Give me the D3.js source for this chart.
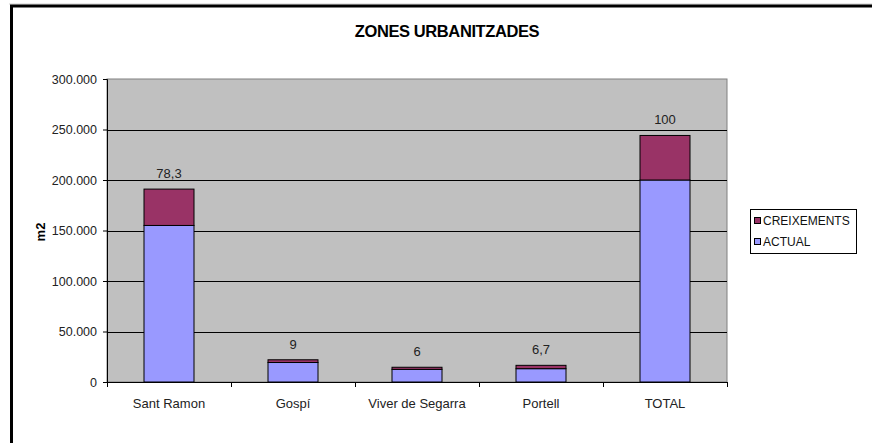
<!DOCTYPE html>
<html>
<head>
<meta charset="utf-8">
<script src="https://cdn.jsdelivr.net/npm/d3@7"></script>
<style>
  body { margin: 0; background: #fff; }
  svg text { font-family: "Liberation Sans", Arial, sans-serif; }
</style>
</head>
<body>
<div id="vis"></div>
<script>
// chart data
const categories = ["Sant Ramon", "Gospí", "Viver de Segarra", "Portell", "TOTAL"];
const actual = [155000, 19300, 12500, 13200, 200000];
const creixements = [36000, 2700, 2100, 3300, 44100];
const pctLabels = ["78,3", "9", "6", "6,7", "100"];
const yTicks = [0, 50000, 100000, 150000, 200000, 250000, 300000];
const seriesNames = ["CREIXEMENTS", "ACTUAL"];
const seriesColors = {"ACTUAL": "#9999FF", "CREIXEMENTS": "#993366"};

const frame_width = 872;
const frame_height = 443;
const plot = {left: 107, right: 727, top: 79, bottom: 382};

const FRAME =
d3.select("#vis")
    .append("svg")
        .attr("width", frame_width)
        .attr("height", frame_height);

// outer border (clipped at right/bottom like the screenshot)
FRAME.append("line")
    .attr("x1", 9).attr("x2", frame_width).attr("y1", 4).attr("y2", 4)
    .attr("stroke", "#ccc").attr("stroke-width", 1);
FRAME.append("path")
    .attr("d", "M11.5," + frame_height + "V6H" + frame_width)
    .attr("fill", "none").attr("stroke", "#000").attr("stroke-width", 3);

const y_scale = d3.scaleLinear()
    .domain([0, 300000])
    .range([plot.bottom, plot.top]);

const x_scale = d3.scaleBand()
    .domain(categories)
    .range([plot.left, plot.right])
    .paddingInner(0)
    .paddingOuter(0);

const barW = 50;

// plot area
FRAME.append("rect")
    .attr("x", plot.left).attr("y", plot.top)
    .attr("width", plot.right - plot.left).attr("height", plot.bottom - plot.top)
    .attr("fill", "#C0C0C0").attr("stroke", "#808080").attr("stroke-width", 1);

// gridlines
FRAME.append("g")
    .selectAll("line")
    .data(yTicks.filter(d => d > 0 && d < 300000))
    .join("line")
        .attr("x1", plot.left).attr("x2", plot.right)
        .attr("y1", d => Math.round(y_scale(d)) + 0.5)
        .attr("y2", d => Math.round(y_scale(d)) + 0.5)
        .attr("stroke", "#000");

// stacked bars
const fmt = d3.format(",");
const rows = categories.map((c, i) => ({cat: c, a: actual[i], c: creixements[i], lab: pctLabels[i]}));

const bars = FRAME.append("g");
bars.selectAll(".actual")
    .data(rows)
    .join("rect")
        .attr("class", "actual")
        .attr("x", d => x_scale(d.cat) + x_scale.bandwidth() / 2 - barW / 2)
        .attr("y", d => y_scale(d.a))
        .attr("width", barW)
        .attr("height", d => y_scale(0) - y_scale(d.a))
        .attr("fill", seriesColors["ACTUAL"])
        .attr("stroke", "#000").attr("stroke-width", 1);

bars.selectAll(".creix")
    .data(rows)
    .join("rect")
        .attr("class", "creix")
        .attr("x", d => x_scale(d.cat) + x_scale.bandwidth() / 2 - barW / 2)
        .attr("y", d => y_scale(d.a + d.c))
        .attr("width", barW)
        .attr("height", d => y_scale(d.a) - y_scale(d.a + d.c))
        .attr("fill", seriesColors["CREIXEMENTS"])
        .attr("stroke", "#000").attr("stroke-width", 1);

// percent labels above the bars
bars.selectAll(".lab")
    .data(rows)
    .join("text")
        .attr("class", "lab")
        .attr("x", d => x_scale(d.cat) + x_scale.bandwidth() / 2)
        .attr("y", d => y_scale(d.a + d.c) - 11)
        .attr("text-anchor", "middle")
        .attr("font-size", "13px")
        .attr("fill", "#222")
        .text(d => d.lab);

// y axis
const yAxis = FRAME.append("g")
    .attr("transform", "translate(" + plot.left + ",0)")
    .call(d3.axisLeft(y_scale)
        .tickValues(yTicks)
        .tickSize(4)
        .tickPadding(6)
        .tickFormat(d => fmt(d).replace(/,/g, ".")));
yAxis.selectAll("text").attr("font-size", "12.5px").attr("fill", "#222").attr("font-family", "Liberation Sans, Arial, sans-serif");
yAxis.selectAll("line, path").attr("stroke", "#000");

// x axis with ticks at category boundaries
const xAxis = FRAME.append("g")
    .attr("transform", "translate(0," + plot.bottom + ")");
xAxis.append("line")
    .attr("x1", plot.left - 4).attr("x2", plot.right)
    .attr("y1", 0.5).attr("y2", 0.5).attr("stroke", "#000");
xAxis.selectAll(".tk")
    .data(categories.concat(["end"]))
    .join("line")
        .attr("class", "tk")
        .attr("x1", (d, i) => Math.round(plot.left + i * x_scale.bandwidth()) + 0.5)
        .attr("x2", (d, i) => Math.round(plot.left + i * x_scale.bandwidth()) + 0.5)
        .attr("y1", 0).attr("y2", 5)
        .attr("stroke", "#000");
xAxis.selectAll(".cat")
    .data(categories)
    .join("text")
        .attr("class", "cat")
        .attr("x", d => x_scale(d) + x_scale.bandwidth() / 2)
        .attr("y", 26)
        .attr("text-anchor", "middle")
        .attr("font-size", "13px")
        .attr("fill", "#222")
        .text(d => d);

// title
FRAME.append("text")
    .attr("x", 447).attr("y", 37)
    .attr("text-anchor", "middle")
    .attr("font-size", "16.5px")
    .attr("font-weight", "bold")
    .attr("letter-spacing", "-0.4px")
    .text("ZONES URBANITZADES");

// y title
FRAME.append("text")
    .attr("transform", "translate(45,232) rotate(-90)")
    .attr("text-anchor", "middle")
    .attr("font-size", "13px")
    .attr("font-weight", "bold")
    .text("m2");

// legend
const legend = FRAME.append("g").attr("transform", "translate(750,209)");
legend.append("rect")
    .attr("x", 0.5).attr("y", 0.5).attr("width", 106).attr("height", 44)
    .attr("fill", "#fff").attr("stroke", "#000");
seriesNames.forEach((s, i) => {
    legend.append("rect")
        .attr("x", 4.5).attr("y", 8.5 + i * 21)
        .attr("width", 6).attr("height", 6)
        .attr("fill", seriesColors[s]).attr("stroke", "#000");
    legend.append("text")
        .attr("x", 13).attr("y", 16 + i * 21)
        .attr("font-size", "12px")
        .attr("fill", "#111")
        .text(s);
});
</script>
</body>
</html>
